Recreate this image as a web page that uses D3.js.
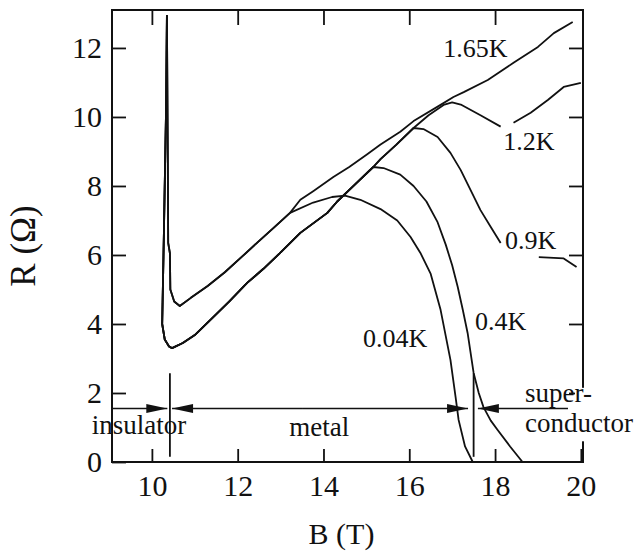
<!DOCTYPE html>
<html lang="en">
<head>
<meta charset="utf-8">
<script src="https://d3js.org/d3.v7.min.js"></script>
<style>
  body { margin: 0; background: #fff; }
  svg { display: block; font-family: "Liberation Serif", "Times New Roman", serif; }
</style>
</head>
<body>
<svg id="chart" width="641" height="553"></svg>
<script>

// ---- data: [B (T), R (ohm)] ----
const temps = ["0.04K", "0.4K", "0.9K", "1.2K", "1.65K"];

// branch starting at the upper minimum (~4.5 ohm)
const upperBranch = [[10.35,12.95],[10.37,9.0],[10.38,6.35],[10.42,6.05],[10.43,5.0],[10.52,4.65],[10.65,4.52],
  [10.9,4.75],[11.3,5.1],[11.7,5.5],[12.1,5.95],[12.45,6.35],[12.85,6.8],[13.22,7.22]];

// branch starting at the lower minimum (~3.3 ohm)
const lowerBranch = [[10.35,12.95],[10.33,10.2],[10.28,6.64],[10.24,4.0],[10.3,3.55],[10.4,3.35],[10.47,3.3],
  [10.72,3.45],[11.0,3.68],[11.43,4.2],[11.8,4.65],[12.22,5.19],[12.6,5.6],[12.99,6.06],[13.46,6.64],
  [14.09,7.22],[14.32,7.55],[14.7,8.0],[15.16,8.55]];

const r004 = upperBranch.concat([[13.76,7.52],[14.2,7.68],[14.5,7.72],[14.86,7.6],[15.33,7.33],[15.72,7.0],
  [16.03,6.52],[16.26,6.06],[16.5,5.45],[16.73,4.41],[16.96,2.96],[17.08,1.88],[17.15,1.22],[17.3,0.45],
  [17.48,0],[20.0,0]]);

const r04 = lowerBranch.concat([[15.4,8.52],[15.79,8.33],[16.1,8.0],[16.4,7.55],[16.66,6.95],[16.85,6.3],
  [17.0,5.7],[17.13,5.07],[17.25,4.4],[17.36,3.74],[17.5,2.58],[17.62,2.0],[17.73,1.59],[17.9,1.2],
  [18.06,0.93],[18.35,0.45],[18.64,0],[20.0,0]]);

const r09 = lowerBranch.concat([[15.33,8.78],[15.7,9.2],[16.1,9.68],[16.33,9.65],[16.66,9.42],[16.96,8.96],
  [17.2,8.46],[17.43,7.88],[17.66,7.3],[17.9,6.81],[18.13,6.35],null,[19.02,5.94],[19.6,5.9],[19.9,5.65]]);

const r12 = lowerBranch.concat([[15.33,8.78],[15.7,9.2],[16.1,9.68],[16.45,10.05],[16.8,10.35],[17.0,10.42],
  [17.2,10.36],[17.66,10.05],[18.13,9.72],null,[18.43,9.83],[18.83,10.12],[19.23,10.49],[19.6,10.87],[20.0,10.99]]);

const r165 = upperBranch.concat([[13.46,7.6],[13.76,7.85],[14.23,8.26],[14.6,8.55],[15.02,8.92],[15.33,9.2],
  [15.79,9.57],[16.1,9.88],[16.73,10.35],[17.03,10.58],[17.27,10.72],[17.83,11.07],[18.43,11.57],
  [19.0,12.03],[19.37,12.43],[19.81,12.75]]);

const series = [r004, r04, r09, r12, r165];

// label anchors (B, R) for each temperature
const tempLabelPos = [[14.92,3.33],[17.53,3.83],[18.23,6.17],[18.19,9.04],[16.79,11.74]];

const xTicks = [10, 12, 14, 16, 18, 20];
const yTicks = [0, 2, 4, 6, 8, 10, 12];

// phase boundaries and arrows
const boundaries = [10.42, 17.5];
const arrowLevel = 1.55;

// ---- layout ----
const frame = {left: 112, right: 583, top: 10, bottom: 462};
const ink = "#111";

const svg = d3.select("#chart");

const x = d3.scaleLinear().domain([9.07, 20.05]).range([frame.left, frame.right]);
const y = d3.scaleLinear().domain([0, 13.1]).range([frame.bottom, frame.top]);

function styleAxis(g, size) {
  g.attr("font-family", null).attr("font-size", size);
  g.select(".domain").remove();
  g.selectAll(".tick line").attr("stroke", ink).attr("stroke-width", 1.8);
  g.selectAll(".tick text").attr("fill", ink);
}

svg.append("g")
    .attr("transform", `translate(0,${frame.bottom})`)
    .call(d3.axisBottom(x).tickValues(xTicks).tickSize(-13).tickPadding(13))
    .call(g => styleAxis(g, 30));

svg.append("g")
    .attr("transform", `translate(${frame.left},0)`)
    .call(d3.axisLeft(y).tickValues(yTicks).tickSize(-14).tickPadding(10))
    .call(g => styleAxis(g, 30));

svg.append("g")
    .attr("transform", `translate(0,${frame.top})`)
    .call(d3.axisTop(x).tickValues(xTicks.slice(0, -1)).tickSize(-15).tickFormat(""))
    .call(g => styleAxis(g, 30));

svg.append("g")
    .attr("transform", `translate(${frame.right},0)`)
    .call(d3.axisRight(y).tickValues(yTicks.slice(1)).tickSize(-14).tickFormat(""))
    .call(g => styleAxis(g, 30));

// frame
svg.append("rect")
    .attr("x", frame.left).attr("y", frame.top)
    .attr("width", frame.right - frame.left).attr("height", frame.bottom - frame.top)
    .attr("fill", "none").attr("stroke", ink).attr("stroke-width", 2);

// curves
const line = d3.line()
    .defined(d => d !== null)
    .x(d => x(d[0]))
    .y(d => y(d[1]));

svg.append("g")
  .selectAll("path")
  .data(series)
  .join("path")
    .attr("d", line)
    .attr("fill", "none")
    .attr("stroke", ink)
    .attr("stroke-width", 1.8)
    .attr("stroke-linejoin", "round");

// temperature labels
svg.append("g")
  .selectAll("text")
  .data(temps)
  .join("text")
    .attr("x", (d, i) => x(tempLabelPos[i][0]))
    .attr("y", (d, i) => y(tempLabelPos[i][1]))
    .attr("font-size", 26)
    .attr("fill", ink)
    .text(d => d);

// arrows along the phase line: [from B, tip B]
const arrows = [[9.07, 10.36], [13.5, 10.47], [13.5, 17.37], [19.7, 17.6]];
const ay = y(arrowLevel);

svg.append("g")
  .selectAll("line")
  .data(arrows)
  .join("line")
    .attr("x1", d => x(d[0])).attr("x2", d => x(d[1]))
    .attr("y1", ay).attr("y2", ay)
    .attr("stroke", ink).attr("stroke-width", 1.6);

svg.append("g")
  .selectAll("path")
  .data(arrows)
  .join("path")
    .attr("d", d => {
      const dir = d[1] > d[0] ? 1 : -1, tx = x(d[1]), L = 21, w = 4.5;
      return `M${tx},${ay}L${tx - dir * L},${ay - w}L${tx - dir * L},${ay + w}Z`;
    })
    .attr("fill", ink);

// boundaries
svg.append("g")
  .selectAll("line")
  .data(boundaries)
  .join("line")
    .attr("x1", d => x(d)).attr("x2", d => x(d))
    .attr("y1", y(2.57)).attr("y2", y(0.15))
    .attr("stroke", ink).attr("stroke-width", 1.8);

// region labels
svg.append("text")
    .attr("x", x(9.70)).attr("y", y(0.81))
    .attr("text-anchor", "middle").attr("font-size", 27).attr("fill", ink)
    .text("insulator");
svg.append("text")
    .attr("x", x(13.90)).attr("y", y(0.75))
    .attr("text-anchor", "middle").attr("font-size", 27).attr("fill", ink)
    .text("metal");

// white patch where the superconductor label crosses the right frame
svg.append("rect")
    .attr("x", frame.right - 8).attr("y", y(2.15))
    .attr("width", 16).attr("height", y(0.6) - y(2.15))
    .attr("fill", "#fff");
svg.append("text")
    .attr("x", x(18.70)).attr("y", y(1.74))
    .attr("font-size", 27).attr("fill", ink)
    .text("super-");
svg.append("text")
    .attr("x", x(18.70)).attr("y", y(0.87))
    .attr("font-size", 27).attr("fill", ink)
    .text("conductor");

// axis titles
svg.append("text")
    .attr("x", (frame.left + frame.right) / 2 - 6).attr("y", 544)
    .attr("text-anchor", "middle").attr("font-size", 30).attr("fill", ink)
    .text("B (T)");
svg.append("text")
    .attr("transform", "translate(35,246) rotate(-90)")
    .attr("text-anchor", "middle").attr("font-size", 35).attr("fill", ink)
    .text("R (Ω)");

</script>
</body>
</html>
